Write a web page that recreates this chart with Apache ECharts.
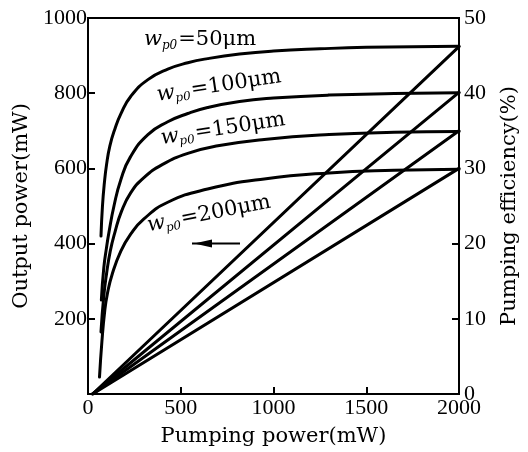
<!DOCTYPE html>
<html><head><meta charset="utf-8">
<script src="https://cdn.jsdelivr.net/npm/echarts@6/dist/echarts.min.js"></script>
<style>html,body{margin:0;padding:0;background:#fff}#c{width:528px;height:452px}</style>
</head><body><div id="c"></div>
<script>
// Pumping power (mW) / output power (mW) for the saturating curves (left axis)
const curve50 = [[70,420],[78,500],[88,560],[100,610],[118,660],[145,705],[177,745],[231,792],[323,836],[430,864],[538,881],[645,892],[817,904],[1000,912],[1250,918],[1500,922],[2000,925]];
const curve100 = [[72,250],[85,335],[100,390],[113,430],[140,500],[177,570],[228,630],[323,690],[430,724],[538,746],[645,762],[817,778],[1000,787],[1300,795],[1650,799],[2000,801]];
const curve150 = [[70,165],[85,260],[100,320],[120,380],[145,430],[180,485],[230,535],[300,575],[400,610],[538,640],[700,660],[950,677],[1300,690],[1650,696],[2000,698]];
const curve200 = [[62,45],[75,140],[90,220],[105,268],[130,318],[177,380],[230,425],[300,465],[430,510],[645,545],[950,572],[1300,588],[1650,595],[2000,598]];
// Straight lines: pumping efficiency (%) (right axis)
const line50 = [[25,0],[2000,46.2]];
const line100 = [[25,0],[2000,40.1]];
const line150 = [[25,0],[2000,35.0]];
const line200 = [[25,0],[2000,30.0]];
const xTicks = [0,500,1000,1500,2000];
const labels = ['50','100','150','200'];

const F = '"Liberation Serif","DejaVu Serif",serif';
const G = '"DejaVu Serif","Liberation Serif",serif';
const chart = echarts.init(document.getElementById('c'));
function ser(data, axis, smooth){
  return {type:'line', data, yAxisIndex:axis, showSymbol:false, symbol:'none', smooth:smooth,
    lineStyle:{color:'#000', width:3, join:'round', cap:'round'}, silent:true, animation:false};
}
function lab(txt, x, y, rot){
  return {type:'text', x, y, rotation: rot*Math.PI/180, style:{
    text:'{w|w}{s|p0}{n|=' + txt + 'μm}', fill:'#000', align:'center', verticalAlign:'middle',
    rich:{
      w:{fontFamily:G, fontStyle:'italic', fontSize:21, fill:'#000'},
      s:{fontFamily:G, fontStyle:'italic', fontSize:12, fill:'#000', padding:[12,1,0,0]},
      n:{fontFamily:G, fontSize:21, fill:'#000'}
    }}};
}
const axisCommon = {
  axisLine:{show:true, lineStyle:{color:'#000', width:2}},
  axisTick:{show:true, inside:true, length:7, lineStyle:{color:'#000', width:2}},
  splitLine:{show:false},
  axisLabel:{color:'#000', fontFamily:F, fontSize:22, margin:2},
  nameTextStyle:{color:'#000', fontFamily:G, fontSize:21},
  nameLocation:'middle'
};
chart.setOption({
  animation:false,
  grid:{left:88, right:67, top:18, bottom:56, show:true, borderColor:'#000', borderWidth:2},
  xAxis:Object.assign({}, axisCommon, {type:'value', min:xTicks[0], max:xTicks[xTicks.length-1], interval:500,
    name:'Pumping power(mW)', nameGap:32,
    axisLabel:Object.assign({}, axisCommon.axisLabel, {margin:3, formatter:v=>String(v)})}),
  yAxis:[
    Object.assign({}, axisCommon, {type:'value', min:0, max:1000, interval:200, position:'left',
      name:'Output power(mW)', nameGap:52,
      axisLabel:Object.assign({}, axisCommon.axisLabel, {margin:1, formatter:v=>v===0?'':String(v)})}),
    Object.assign({}, axisCommon, {type:'value', min:0, max:50, interval:10, position:'right',
      name:'Pumping efficiency(%)', nameGap:40, nameRotate:90,
      axisLabel:Object.assign({}, axisCommon.axisLabel, {margin:5})})
  ],
  series:[
    ser(curve50,0,0.5), ser(curve100,0,0.5), ser(curve150,0,0.5), ser(curve200,0,0.5),
    ser(line50,1,false), ser(line100,1,false), ser(line150,1,false), ser(line200,1,false)
  ],
  graphic:[
    lab(labels[0], 200, 40, 0),
    lab(labels[1], 219, 86, 8.6),
    lab(labels[2], 223, 129, 8.7),
    lab(labels[3], 209, 214, 11),
    {type:'line', shape:{x1:192, y1:243.5, x2:240, y2:243.5}, style:{stroke:'#000', lineWidth:2}},
    {type:'polygon', shape:{points:[[194,243.5],[212,239.5],[212,247.5]]}, style:{fill:'#000'}}
  ]
});
</script></body></html>
